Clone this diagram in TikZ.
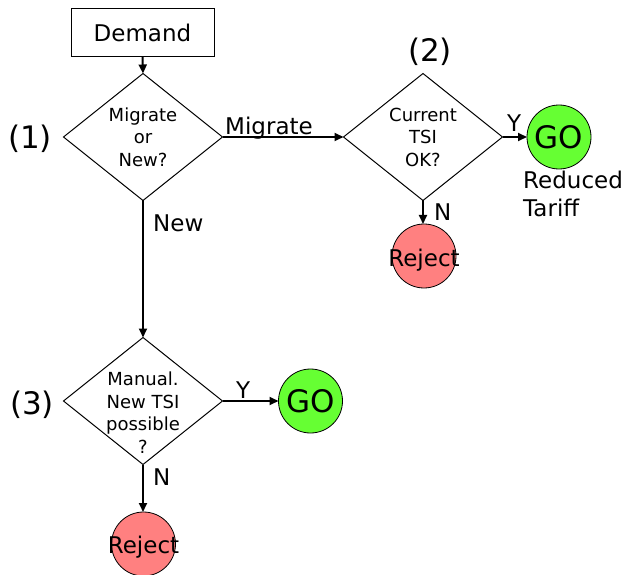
\documentclass[tikz,border=0pt]{standalone}
\usepackage{fontspec}
\setmainfont{DejaVu Sans}
\usetikzlibrary{shapes.geometric,arrows.meta}
\definecolor{gofill}{RGB}{102,255,51}
\definecolor{rejfill}{RGB}{255,128,128}
\tikzset{
  bigfont/.style={font=\fontsize{23}{28}\selectfont},
  hugefont/.style={font=\fontsize{31}{36}\selectfont},
  dia/.style={draw, diamond, line width=1pt, minimum width=159pt, minimum height=127pt,
    inner sep=-20pt, outer sep=0pt, align=center, font=\fontsize{18}{22.5}\selectfont},
  endc/.style={circle, draw, line width=0.8pt, minimum size=64pt, inner sep=0pt, outer sep=0pt},
  gonode/.style={endc, fill=gofill, hugefont},
  rejnode/.style={endc, fill=rejfill, bigfont},
  conn/.style={line width=2pt, -{Triangle[length=9pt,width=8pt]}},
  lbl/.style={inner sep=0pt, bigfont},
  numlbl/.style={inner sep=0pt, hugefont},
  boxnode/.style={draw, line width=1pt, minimum width=143pt, minimum height=48pt, inner sep=0pt, outer sep=0pt, bigfont}
}
\begin{document}
\begin{tikzpicture}[x=1pt,y=-1pt]
\path[fill=white,use as bounding box] (0,0) rectangle (627,575);

\node[boxnode] (demand) at (142.5,33) {Demand};
\node[dia] (d1) at (143,137) {Migrate\\or\\New?};
\node[dia] (d2) at (423,137) {Current\\TSI\\OK?};
\node[dia, text height=104pt] (d3) at (143,401) {Manual.\\New TSI\\possible\\?};

\node[gonode] (go1) at (559,137) {GO};
\node[rejnode] (rej1) at (424,256) {\makebox[0pt]{\raisebox{-10pt}[0pt][0pt]{Reject}}};
\node[gonode] (go2) at (310.5,401) {GO};
\node[rejnode] (rej2) at (143.5,544) {\makebox[0pt]{\raisebox{-9pt}[0pt][0pt]{Reject}}};

\draw[conn] (demand.south) -- (d1.north);
\draw[conn] (d1.east) -- (d2.west);
\draw[conn] (d2.east) -- (go1.west);
\draw[conn] (d2.south) -- (d2.south |- rej1.north);
\draw[conn] (d1.south) -- (d3.north);
\draw[conn] (d3.east) -- (go2.west);
\draw[conn] (d3.south) -- (d3.south |- rej2.north);

\node[lbl, anchor=base west] (lmig) at (225,135) {Migrate};
\node[lbl, anchor=base west] (lnew) at (153,231) {New};
\node[lbl, anchor=base west] (ln1) at (434,221) {N};
\node[lbl, anchor=base west] (ly1) at (507,132) {Y};
\node[lbl, anchor=base west] (ly2) at (236,398) {Y};
\node[lbl, anchor=base west] (ln2) at (153,485) {N};
\node[lbl, anchor=north west, align=left] (ltar) at (523,171) {Reduced\\Tariff};

\node[numlbl] (n1) at (30,139) {(1)};
\node[numlbl] (n2) at (430,52) {(2)};
\node[numlbl] (n3) at (32,405) {(3)};
\end{tikzpicture}
\end{document}
